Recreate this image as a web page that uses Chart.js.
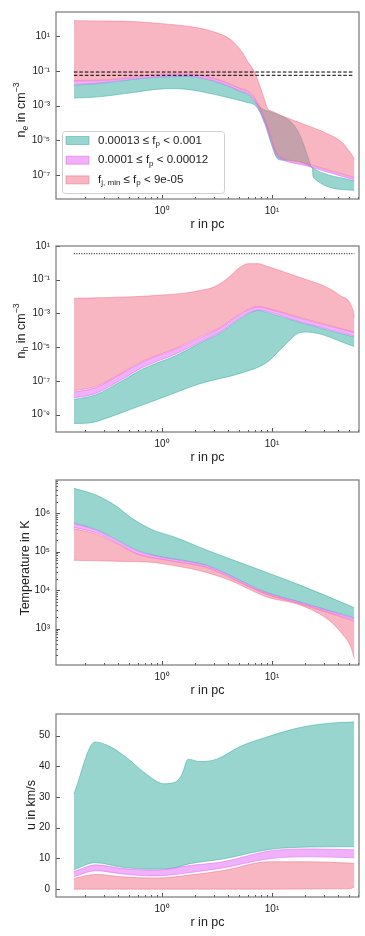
<!DOCTYPE html>
<html lang="en">
<head>
<meta charset="UTF-8">
<title>Radial profiles</title>
<script src="https://cdn.jsdelivr.net/npm/chart.js"></script>
<style>
  body { margin: 0; background: #fff; }
  canvas { position: absolute; left: 0; }
</style>
</head>
<body>
<canvas id="c1" width="365" height="234" style="top:0px"></canvas>
<canvas id="c2" width="365" height="234" style="top:234px"></canvas>
<canvas id="c3" width="365" height="234" style="top:468px"></canvas>
<canvas id="c4" width="365" height="234" style="top:702px"></canvas>
<script>
// ---- n_e panel
const nePinkHiX = [0.158, 0.3, 0.5, 1.0, 2.0, 3.0, 4.15, 4.8, 5.45, 6.05, 6.6, 7.0, 7.45, 8.1, 8.65, 9.2, 10, 11.8, 15.2, 20, 30, 43, 51, 56];
const nePinkHi = [78, 74, 71, 52, 32, 17, 6.8, 2.8, 1.0, 0.32, 0.15, 0.078, 0.028, 6.0e-3, 1.7e-3, 6.0e-4, 4.7e-4, 2.8e-4, 1.5e-4, 7.8e-5, 2.8e-5, 7.8e-6, 2.1e-6, 8.7e-7];
const neMidX = [0.158, 0.27, 0.62, 1.0, 1.65, 3.0, 5.1, 6.3, 7.3, 8.65, 9.9, 11.0, 11.8, 21, 56];
const nePinkLo = [2.8e-2, 2.9e-2, 4.8e-2, 6.5e-2, 6.8e-2, 3.6e-2, 1.0e-2, 5.6e-3, 1.6e-3, 1.5e-4, 1.2e-5, 1.7e-6, 1.15e-6, 4.3e-7, 7.1e-8];
const neMagHi = [2.6e-2, 2.7e-2, 4.5e-2, 6.0e-2, 6.3e-2, 3.4e-2, 9.3e-3, 5.2e-3, 1.5e-3, 1.35e-4, 1.05e-5, 1.6e-6, 1.05e-6, 3.9e-7, 6.5e-8];
const neMagLo = [1.6e-2, 2.0e-2, 3.7e-2, 4.7e-2, 5.0e-2, 2.6e-2, 7.1e-3, 4.0e-3, 1.1e-3, 1.0e-4, 7.9e-6, 1.26e-6, 8.7e-7, 3.2e-7, 5.0e-8];
const neTealHiX = [0.158, 0.27, 0.62, 1.0, 1.65, 3.0, 5.1, 6.3, 7.0, 8.35, 10.6, 14.1, 16.8, 19.3, 21.4, 22.6, 23.6, 56];
const neTealHi = [1.48e-2, 1.86e-2, 3.5e-2, 4.4e-2, 4.7e-2, 2.45e-2, 6.6e-3, 3.7e-3, 1.6e-3, 6.0e-4, 3.6e-4, 1.5e-4, 4.3e-5, 6.2e-6, 9.1e-7, 3.2e-7, 2.45e-7, 4.4e-8];
const neTealLoX = [0.158, 0.22, 0.31, 0.44, 0.62, 0.88, 1.25, 1.65, 2.2, 4.4, 5.7, 7.3, 8.65, 9.9, 11.0, 12.25, 23.2, 23.7, 56];
const neTealLo = [2.7e-3, 2.9e-3, 3.5e-3, 4.7e-3, 6.3e-3, 8.5e-3, 9.5e-3, 8.7e-3, 6.6e-3, 2.45e-3, 1.6e-3, 7.9e-4, 7.9e-5, 5.6e-6, 1.0e-6, 7.1e-7, 2.6e-7, 7.1e-8, 1.3e-8];
const neRefX = [0.158, 56];
const neRefA = [0.085, 0.085];
const neRefB = [0.055, 0.055];

// ---- n_h panel
const nhPinkHiX = [0.158, 0.55, 1.0, 1.68, 2.21, 2.93, 3.88, 5.12, 6.1, 7.52, 8.97, 18, 31.4, 41, 54.9, 56];
const nhPinkHi = [7.9e-3, 9.8e-3, 1.23e-2, 1.66e-2, 2.3e-2, 3.6e-2, 0.11, 0.55, 0.89, 0.89, 0.63, 0.135, 3.6e-2, 1.23e-2, 1.35e-3, 5.9e-4];
const nhMidX = [0.158, 0.25, 0.44, 0.67, 1.34, 2.21, 3.37, 4.77, 6.31, 7.52, 8.97, 18, 56];
const nhPinkLo = [2.6e-8, 4.6e-8, 3.2e-7, 1.5e-6, 8.7e-6, 4.1e-5, 1.5e-4, 7.1e-4, 1.95e-3, 2.6e-3, 2.1e-3, 5.6e-4, 7.9e-5];
const nhMagHi = [2.2e-8, 4.0e-8, 2.9e-7, 1.35e-6, 7.8e-6, 3.5e-5, 1.35e-4, 6.3e-4, 1.8e-3, 2.4e-3, 1.95e-3, 5.1e-4, 7.4e-5];
const nhMagLo = [9.8e-9, 1.8e-8, 1.3e-7, 6.3e-7, 4.0e-6, 1.95e-5, 7.8e-5, 4.0e-4, 1.17e-3, 1.6e-3, 1.3e-3, 3.2e-4, 4.5e-5];
const nhTealHi = [7.9e-9, 1.5e-8, 1.07e-7, 5.1e-7, 3.2e-6, 1.7e-5, 6.8e-5, 3.5e-4, 1.07e-3, 1.5e-3, 1.15e-3, 2.9e-4, 4.0e-5];
const nhTealLoX = [0.158, 0.218, 0.332, 0.622, 1.087, 2.21, 5.49, 8.97, 12.7, 17.0, 20.7, 56];
const nhTealLo = [3.0e-10, 3.2e-10, 7.1e-10, 3.2e-9, 1.23e-8, 6.8e-8, 3.2e-7, 1.23e-6, 1.1e-5, 6.3e-5, 7.9e-5, 1.1e-5];
const nhRefX = [0.158, 56];
const nhRef = [3.5, 3.5];

// ---- temperature panel
const tTealHiX = [0.158, 0.251, 0.382, 0.542, 0.823, 1.25, 1.77, 2.51, 5.89, 18, 56];
const tTealHi = [4.5e6, 3.0e6, 1.55e6, 7.2e5, 3.7e5, 2.5e5, 1.7e5, 1.12e5, 4.5e4, 1.35e4, 3.5e3];
const tMidX = [0.158, 0.251, 0.382, 0.58, 0.882, 1.77, 2.51, 8.97, 18, 56];
const tTealLo = [5.6e5, 3.8e5, 2.1e5, 1.12e5, 7.9e4, 5.6e4, 4.5e4, 8.7e3, 4.9e3, 1.9e3];
const tMagHi = [5.4e5, 3.65e5, 2.0e5, 1.08e5, 7.7e4, 5.45e4, 4.4e4, 8.5e3, 4.8e3, 1.82e3];
const tMagLo = [4.3e5, 3.1e5, 1.74e5, 9.1e4, 6.8e4, 4.9e4, 4.0e4, 7.9e3, 4.5e3, 1.62e3];
const tPinkHi = [4.0e5, 2.9e5, 1.66e5, 8.9e4, 6.6e4, 4.8e4, 3.9e4, 7.8e3, 4.4e3, 1.55e3];
const tPinkLoX = [0.158, 0.44, 0.88, 1.0, 2.21, 4.15, 8.97, 18, 33.6, 44.3, 51.6, 56];
const tPinkLo = [6.0e4, 5.6e4, 5.2e4, 4.9e4, 3.2e4, 1.8e4, 6.6e3, 4.1e3, 1.58e3, 680, 355, 170];

// ---- velocity panel
const uTealHiX = [0.158, 0.246, 0.337, 0.477, 0.676, 0.895, 1.03, 1.27, 1.51, 1.68, 1.73, 2.21, 3.14, 5.12, 8.97, 18, 36, 56];
const uTealHi = [31.0, 47.9, 46.4, 42.8, 38.2, 35.1, 34.3, 34.6, 37.2, 41.8, 42.3, 41.5, 42.3, 46.4, 49.5, 52.6, 54.1, 54.4];
const uTealLoX = [0.158, 0.246, 0.44, 0.78, 1.18, 1.8, 3.56, 9.4, 22, 56];
const uTealLo = [6.3, 8.6, 7.1, 6.5, 6.7, 8.3, 9.8, 12.9, 13.7, 13.8];
const uMidX = [0.158, 0.251, 0.44, 0.88, 1.8, 3.56, 9.45, 21.8, 56];
const uMagHi = [5.7, 7.9, 6.7, 6.2, 7.7, 8.9, 12.4, 13.1, 12.8];
const uMagLo = [4.1, 6.0, 4.9, 4.3, 5.4, 6.9, 9.9, 10.5, 10.2];
const uPinkHi = [3.5, 4.8, 4.0, 3.6, 4.6, 6.0, 8.9, 8.9, 8.4];
const uPinkLoX = [0.158, 1, 10, 45, 53, 56];
const uPinkLo = [0, 0, 0, 0.1, 0.3, 0.8];

// ---- ticks
const xTicks = [1, 10];
const xTickLabels = ['10⁰', '10¹'];
const xMinor = [0.2, 0.3, 0.4, 0.5, 0.6, 0.7, 0.8, 0.9, 2, 3, 4, 5, 6, 7, 8, 9, 20, 30, 40, 50, 60];
const neTicks = [1e-7, 1e-5, 1e-3, 1e-1, 10];
const neTickLabels = ['10⁻⁷', '10⁻⁵', '10⁻³', '10⁻¹', '10¹'];
const nhTicks = [1e-9, 1e-7, 1e-5, 1e-3, 1e-1, 10];
const nhTickLabels = ['10⁻⁹', '10⁻⁷', '10⁻⁵', '10⁻³', '10⁻¹', '10¹'];
const tTicks = [1e3, 1e4, 1e5, 1e6];
const tTickLabels = ['10³', '10⁴', '10⁵', '10⁶'];
const tMinor = [200, 300, 400, 500, 600, 700, 800, 900, 2e3, 3e3, 4e3, 5e3, 6e3, 7e3, 8e3, 9e3,
  2e4, 3e4, 4e4, 5e4, 6e4, 7e4, 8e4, 9e4, 2e5, 3e5, 4e5, 5e5, 6e5, 7e5, 8e5, 9e5, 2e6, 3e6, 4e6, 5e6, 6e6, 7e6];
const uTicks = [0, 10, 20, 30, 40, 50];
const uTickLabels = ['0', '10', '20', '30', '40', '50'];

const FONT = '"Liberation Sans", Arial, sans-serif';
const TEAL = 'rgba(49,171,159,0.5)';
const MAG = 'rgba(225,97,245,0.5)';
const PINK = 'rgba(241,109,135,0.5)';

function pts(xs, ys) { return xs.map((x, i) => ({ x: x, y: ys[i] })); }

function drawRich(ctx, parts, x, y, size) {
  let w = 0;
  parts.forEach(p => {
    ctx.font = (p[1] ? size * 0.7 : size) + 'px ' + FONT;
    w += ctx.measureText(p[0]).width;
  });
  let cx = x - w / 2;
  parts.forEach(p => {
    const s = p[1] ? size * 0.7 : size;
    const dy = p[1] === 'sub' ? size * 0.28 : p[1] === 'sup' ? -size * 0.42 : 0;
    ctx.font = s + 'px ' + FONT;
    ctx.fillText(p[0], cx, y + dy);
    cx += ctx.measureText(p[0]).width;
  });
  return w;
}

const deco = {
  id: 'deco',
  afterDraw(chart, args, o) {
    const ctx = chart.ctx, a = chart.chartArea, sx = chart.scales.x, sy = chart.scales.y;
    ctx.save();
    ctx.strokeStyle = '#555';
    ctx.lineWidth = 1;
    const tick = (scale, vals, len) => vals.forEach(v => {
      const p = Math.round(scale.getPixelForValue(v)) + 0.5;
      ctx.beginPath();
      if (scale.axis === 'x') {
        if (p < a.left || p > a.right) return;
        ctx.moveTo(p, a.bottom); ctx.lineTo(p, a.bottom - len);
      } else {
        if (p < a.top || p > a.bottom) return;
        ctx.moveTo(a.left, p); ctx.lineTo(a.left + len, p);
      }
      ctx.stroke();
    });
    tick(sx, xTicks, 4);
    tick(sx, xMinor, 2);
    tick(sy, o.yTicks, 4);
    if (o.yMinor) tick(sy, o.yMinor, 2);
    ctx.strokeStyle = '#777';
    ctx.lineWidth = 1.2;
    ctx.strokeRect(a.left, a.top, a.right - a.left, a.bottom - a.top);

    ctx.fillStyle = '#222';
    ctx.textBaseline = 'middle';
    drawRich(ctx, [['r in pc']], (a.left + a.right) / 2, a.bottom + 26, 12.5);
    ctx.save();
    ctx.translate(o.yTitleX, o.yTitleY);
    ctx.rotate(-Math.PI / 2);
    drawRich(ctx, o.yTitle, 0, 0, 12.5);
    ctx.restore();

    if (o.legend) {
      const L = o.legend;
      ctx.fillStyle = 'rgba(255,255,255,0.8)';
      ctx.strokeStyle = '#d0d0d0';
      ctx.lineWidth = 1;
      ctx.beginPath();
      ctx.roundRect(L.x + 0.5, L.y + 0.5, L.w, L.h, 3);
      ctx.fill(); ctx.stroke();
      L.items.forEach((it, i) => {
        const cy = L.y + 9.5 + i * 19.7;
        ctx.fillStyle = it.color;
        ctx.fillRect(L.x + 4, cy - 4, 23, 8);
        ctx.strokeStyle = it.color;
        ctx.strokeRect(L.x + 4, cy - 4, 23, 8);
        ctx.fillStyle = '#222';
        ctx.textAlign = 'left';
        let w = 0;
        it.parts.forEach(p => { ctx.font = (p[1] ? 11.5 * 0.7 : 11.5) + 'px ' + FONT; w += ctx.measureText(p[0]).width; });
        drawRich(ctx, it.parts, L.x + 36 + w / 2, cy, 11.5);
      });
    }
    ctx.restore();
  }
};

function band(loX, lo, hiX, hi, color) {
  const common = { pointRadius: 0, borderWidth: 1, borderColor: color, cubicInterpolationMode: 'monotone' };
  return [
    Object.assign({ data: pts(loX, lo), fill: false }, common),
    Object.assign({ data: pts(hiX, hi), fill: '-1', backgroundColor: color }, common)
  ];
}

function refLine(xs, ys, dash) {
  return { data: pts(xs, ys), borderColor: '#000', borderWidth: 1, borderDash: dash, pointRadius: 0, fill: false };
}

function makeChart(id, p) {
  new Chart(document.getElementById(id), {
    type: 'line',
    data: { datasets: p.datasets },
    options: {
      responsive: false,
      animation: false,
      devicePixelRatio: 1,
      layout: { padding: { top: p.top, right: 6, left: 0, bottom: 0 } },
      plugins: { legend: { display: false }, tooltip: { enabled: false }, deco: p.deco },
      scales: {
        x: {
          type: 'logarithmic', min: 0.1087, max: 61.8, bounds: 'data',
          grid: { display: false, drawTicks: false }, border: { display: false },
          afterBuildTicks: s => { s.ticks = xTicks.map(v => ({ value: v })); },
          afterFit: s => { s.height = p.xh; },
          ticks: { autoSkip: false, maxRotation: 0, padding: 6, color: '#222',
            font: { family: FONT, size: 10 }, callback: (v, i) => xTickLabels[i] }
        },
        y: {
          type: p.yType, min: p.yMin, max: p.yMax, bounds: 'data',
          grid: { display: false, drawTicks: false }, border: { display: false },
          afterBuildTicks: s => { s.ticks = p.deco.yTicks.map(v => ({ value: v })); },
          afterFit: s => { s.width = 56; },
          ticks: { autoSkip: false, padding: 6, color: '#222',
            font: { family: FONT, size: 10 }, callback: (v, i) => p.yLabels[i] }
        }
      }
    },
    plugins: [deco]
  });
}

makeChart('c1', {
  top: 5, xh: 35, yType: 'logarithmic', yMin: Math.pow(10, -8.39), yMax: Math.pow(10, 2.39), yLabels: neTickLabels,
  datasets: [refLine(neRefX, neRefA, [3.5, 2]), refLine(neRefX, neRefB, [3.5, 2])]
    .concat(band(neMidX, nePinkLo, nePinkHiX, nePinkHi, PINK))
    .concat(band(neMidX, neMagLo, neMidX, neMagHi, MAG))
    .concat(band(neTealLoX, neTealLo, neTealHiX, neTealHi, TEAL)),
  deco: {
    yTicks: neTicks, yTitleX: 22, yTitleY: 110,
    yTitle: [['n'], ['e', 'sub'], [' in cm'], ['−3', 'sup']],
    legend: { x: 62, y: 131, w: 162, h: 62, items: [
      { color: TEAL, parts: [['0.00013 ≤ f'], ['p', 'sub'], [' < 0.001']] },
      { color: MAG, parts: [['0.0001 ≤ f'], ['p', 'sub'], [' < 0.00012']] },
      { color: PINK, parts: [['f'], ['j, min', 'sub'], [' ≤ f'], ['p', 'sub'], [' < 9e-05']] }
    ] }
  }
});

makeChart('c2', {
  top: 5, xh: 36, yType: 'logarithmic', yMin: Math.pow(10, -10.03), yMax: 10, yLabels: nhTickLabels,
  datasets: [refLine(nhRefX, nhRef, [1, 1.5])]
    .concat(band(nhMidX, nhPinkLo, nhPinkHiX, nhPinkHi, PINK))
    .concat(band(nhMidX, nhMagLo, nhMidX, nhMagHi, MAG))
    .concat(band(nhTealLoX, nhTealLo, nhMidX, nhTealHi, TEAL)),
  deco: { yTicks: nhTicks, yTitleX: 22, yTitleY: 97, yTitle: [['n'], ['h', 'sub'], [' in cm'], ['−3', 'sup']] }
});

makeChart('c3', {
  top: 3, xh: 37, yType: 'logarithmic', yMin: Math.pow(10, 2.05), yMax: Math.pow(10, 6.868), yLabels: tTickLabels,
  datasets: band(tPinkLoX, tPinkLo, tMidX, tPinkHi, PINK)
    .concat(band(tMidX, tMagLo, tMidX, tMagHi, MAG))
    .concat(band(tMidX, tTealLo, tTealHiX, tTealHi, TEAL)),
  deco: { yTicks: tTicks, yMinor: tMinor, yTitleX: 26, yTitleY: 100, yTitle: [['Temperature in K']] }
});

makeChart('c4', {
  top: 2, xh: 39, yType: 'linear', yMin: -2.56, yMax: 57, yLabels: uTickLabels,
  datasets: band(uPinkLoX, uPinkLo, uMidX, uPinkHi, PINK)
    .concat(band(uMidX, uMagLo, uMidX, uMagHi, MAG))
    .concat(band(uTealLoX, uTealLo, uTealHiX, uTealHi, TEAL)),
  deco: { yTicks: uTicks, yTitleX: 32, yTitleY: 103, yTitle: [['u in km/s']] }
});
</script>
</body>
</html>
